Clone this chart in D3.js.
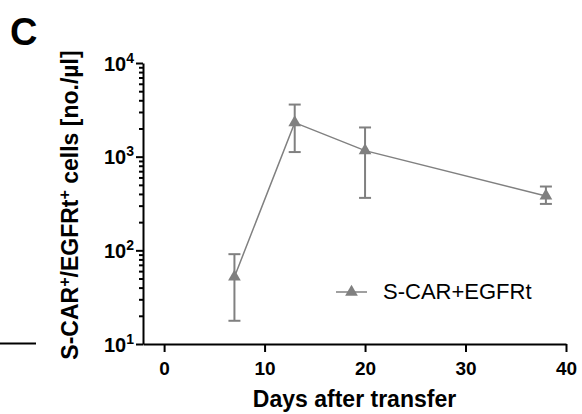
<!DOCTYPE html>
<html>
<head>
<meta charset="utf-8">
<script src="https://cdn.jsdelivr.net/npm/d3@7"></script>
<style>
  body { margin: 0; background: #fff; }
  text { font-family: Arial, "Liberation Sans", sans-serif; }
</style>
</head>
<body>
<div id="chart"></div>
<script>
// data
var days  = [7, 13, 20, 38]
var mean  = [52, 2310, 1160, 381]
var upper = [91, 3600, 2050, 480]
var lower = [17.7, 1120, 363, 313]
var seriesName = "S-CAR+EGFRt"
var xTicks = [0, 10, 20, 30, 40]
var yMajor = [10, 100, 1000, 10000]
var yExp = ["1", "2", "3", "4"]

var width = 582, height = 414
var grey = "#808080"

var svg = d3.select("#chart").append("svg")
    .attr("width", width)
    .attr("height", height)

var x = d3.scaleLinear().domain([-2.1, 40]).range([143, 566])
var y = d3.scaleLog().domain([10, 10000]).range([344, 63])

// minor ticks 2..9 in every decade
var yMinor = []
yMajor.slice(0, 3).forEach(function(d) {
  for (var k = 2; k < 10; k++) yMinor.push(d * k)
})

// panel letter
svg.append("text")
   .attr("x", 10)
   .attr("y", 45)
   .attr("font-size", "38px")
   .attr("font-weight", "bold")
   .text("C")

// stray line from the neighbouring panel
svg.append("line")
   .attr("x1", 0).attr("x2", 36)
   .attr("y1", 343.5).attr("y2", 343.5)
   .attr("stroke", "#000")
   .attr("stroke-width", 2)

// Y axis minor ticks
svg.append("g")
   .attr("transform", "translate(143,0)")
   .call(d3.axisLeft(y).tickValues(yMinor).tickSize(4).tickFormat(""))
   .call(g => g.select(".domain").remove())
   .call(g => g.selectAll(".tick line").attr("stroke-width", 2))

// Y axis major ticks
svg.append("g")
   .attr("transform", "translate(143,0)")
   .call(d3.axisLeft(y).tickValues(yMajor).tickSize(7).tickSizeOuter(0).tickFormat(""))
   .call(g => g.select(".domain").attr("stroke-width", 2))
   .call(g => g.selectAll(".tick line").attr("stroke-width", 2))
   .call(g => g.selectAll(".tick").each(function(d, i) {
      var t = d3.select(this).append("text")
          .attr("x", -9)
          .attr("y", 7)
          .attr("fill", "#000")
          .attr("text-anchor", "end")
          .attr("font-size", "20px")
          .attr("font-weight", "bold")
      t.append("tspan").text("10")
      t.append("tspan")
          .attr("font-size", "14px")
          .attr("dy", "-8")
          .text(yExp[i])
   }))

// X axis
svg.append("g")
   .attr("transform", "translate(0,344)")
   .call(d3.axisBottom(x).tickValues(xTicks).tickSize(8).tickSizeOuter(0))
   .call(g => g.select(".domain").attr("stroke-width", 2))
   .call(g => g.selectAll(".tick line").attr("stroke-width", 2))
   .call(g => g.selectAll(".tick text")
      .attr("y", 31)
      .attr("dy", null)
      .attr("font-size", "19px")
      .attr("font-weight", "bold")
      .attr("font-family", null))

// axis titles
svg.append("text")
   .attr("x", 354.5)
   .attr("y", 407)
   .attr("text-anchor", "middle")
   .attr("font-size", "23px")
   .attr("font-weight", "bold")
   .text("Days after transfer")

var yl = svg.append("text")
   .attr("transform", "translate(78,205) rotate(-90)")
   .attr("text-anchor", "middle")
   .attr("font-size", "23px")
   .attr("font-weight", "bold")
yl.append("tspan").text("S-CAR")
yl.append("tspan").attr("font-size", "16px").attr("baseline-shift", "super").text("+")
yl.append("tspan").text("/EGFRt")
yl.append("tspan").attr("font-size", "16px").attr("baseline-shift", "super").text("+")
yl.append("tspan").text(" cells [no./\u00b5l]")

// data
var data = days.map(function(d, i) {
  return {day: d, mean: mean[i], hi: upper[i], lo: lower[i]}
})

// error bars
var eb = svg.append("g").attr("stroke", grey).attr("stroke-width", 2)
eb.selectAll(".bar").data(data).enter().append("line")
   .attr("x1", d => x(d.day)).attr("x2", d => x(d.day))
   .attr("y1", d => y(d.hi)).attr("y2", d => y(d.lo))
eb.selectAll(".caphi").data(data).enter().append("line")
   .attr("x1", d => x(d.day) - 6).attr("x2", d => x(d.day) + 6)
   .attr("y1", d => y(d.hi)).attr("y2", d => y(d.hi))
eb.selectAll(".caplo").data(data).enter().append("line")
   .attr("x1", d => x(d.day) - 6).attr("x2", d => x(d.day) + 6)
   .attr("y1", d => y(d.lo)).attr("y2", d => y(d.lo))

// line
svg.append("path")
   .datum(data)
   .attr("fill", "none")
   .attr("stroke", grey)
   .attr("stroke-width", 1.5)
   .attr("d", d3.line().x(d => x(d.day)).y(d => y(d.mean)))

// markers
var tri = d3.symbol().type(d3.symbolTriangle).size(70)
svg.selectAll(".pt").data(data).enter().append("path")
   .attr("transform", d => "translate(" + x(d.day) + "," + y(d.mean) + ")")
   .attr("d", tri)
   .attr("fill", grey)

// legend
var lg = svg.append("g").attr("transform", "translate(336,292)")
lg.append("line")
   .attr("x1", 0).attr("x2", 31)
   .attr("stroke", grey)
   .attr("stroke-width", 1.5)
lg.append("path")
   .attr("transform", "translate(15.5,0)")
   .attr("d", tri)
   .attr("fill", grey)
lg.append("text")
   .attr("x", 47)
   .attr("y", 7)
   .attr("font-size", "22px")
   .text(seriesName)
</script>
</body>
</html>
